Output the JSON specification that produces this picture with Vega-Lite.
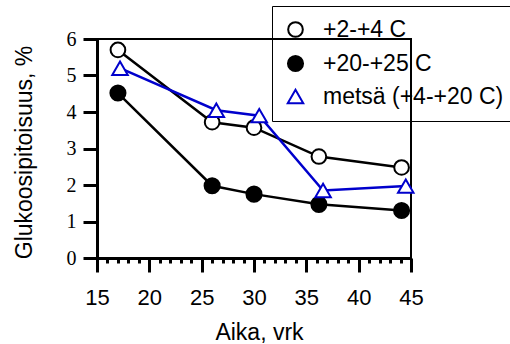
{
  "$schema": "https://vega.github.io/schema/vega-lite/v6.json",
  "width": 314,
  "height": 219,
  "autosize": "none",
  "padding": {"left": 97, "top": 39, "right": 99, "bottom": 86},
  "background": "white",
  "config": {
    "view": {"stroke": "black", "strokeWidth": 2},
    "axis": {
      "domainColor": "black", "tickColor": "black", "labelColor": "black", "titleColor": "black",
      "grid": false, "domainWidth": 3, "tickWidth": 3, "labelFlush": false, "labelOverlap": false,
      "titleFont": "Liberation Sans", "titleFontSize": 23, "titleFontWeight": "normal"
    },
    "legend": {
      "orient": "none", "legendX": 175, "legendY": -33,
      "strokeColor": "black", "padding": 12, "rowPadding": 9,
      "labelFont": "Liberation Sans", "labelFontSize": 23, "labelColor": "black", "labelLimit": 400,
      "labelOffset": 16, "symbolSize": 250, "symbolStrokeWidth": 2, "symbolOpacity": 1
    }
  },
  "data": {
    "values": [
      {"series": "+2-+4 C", "day": 17, "value": 5.7},
      {"series": "+2-+4 C", "day": 26, "value": 3.72},
      {"series": "+2-+4 C", "day": 30, "value": 3.57},
      {"series": "+2-+4 C", "day": 36.2, "value": 2.78},
      {"series": "+2-+4 C", "day": 44.1, "value": 2.48},
      {"series": "+20-+25 C", "day": 17, "value": 4.52},
      {"series": "+20-+25 C", "day": 26, "value": 1.98},
      {"series": "+20-+25 C", "day": 30, "value": 1.75},
      {"series": "+20-+25 C", "day": 36.2, "value": 1.47},
      {"series": "+20-+25 C", "day": 44.1, "value": 1.3},
      {"series": "metsä (+4-+20 C)", "day": 17.2, "value": 5.2},
      {"series": "metsä (+4-+20 C)", "day": 26.4, "value": 4.05},
      {"series": "metsä (+4-+20 C)", "day": 30.5, "value": 3.9},
      {"series": "metsä (+4-+20 C)", "day": 36.6, "value": 1.85},
      {"series": "metsä (+4-+20 C)", "day": 44.5, "value": 1.97}
    ]
  },
  "encoding": {
    "x": {
      "field": "day", "type": "quantitative",
      "scale": {"domain": [15, 45], "nice": false, "zero": false},
      "axis": {
        "values": [15, 16, 17, 18, 19, 20, 21, 22, 23, 24, 25, 26, 27, 28, 29, 30, 31, 32, 33, 34, 35, 36, 37, 38, 39, 40, 41, 42, 43, 44, 45],
        "labelExpr": "datum.value % 5 === 0 ? datum.label : ''",
        "tickSize": {"condition": {"test": "datum.value % 5 === 0", "value": 14}, "value": 5},
        "labelFont": "Liberation Sans", "labelFontSize": 22, "labelPadding": 15,
        "title": "Aika, vrk", "titleX": 162, "titleY": 81, "titleBaseline": "alphabetic"
      }
    },
    "y": {
      "field": "value", "type": "quantitative",
      "scale": {"domain": [0, 6], "nice": false},
      "axis": {
        "values": [0, 1, 2, 3, 4, 5, 6], "format": "d",
        "tickSize": 14, "labelFont": "Liberation Serif, Times New Roman, serif", "labelFontSize": 20, "labelPadding": 7,
        "title": "Glukoosipitoisuus, %", "titleX": -66, "titleY": 113, "titleBaseline": "alphabetic"
      }
    },
    "stroke": {
      "field": "series", "type": "nominal",
      "scale": {"domain": ["+2-+4 C", "+20-+25 C", "metsä (+4-+20 C)"], "range": ["black", "black", "#0000cc"]},
      "legend": {"title": null}
    }
  },
  "layer": [
    {
      "mark": {"type": "line", "clip": false, "strokeWidth": 2.5}
    },
    {
      "mark": {"type": "point", "filled": true, "strokeWidth": 2, "opacity": 1},
      "encoding": {
        "shape": {
          "field": "series", "type": "nominal",
          "scale": {"domain": ["+2-+4 C", "+20-+25 C", "metsä (+4-+20 C)"], "range": ["circle", "circle", "triangle-up"]},
          "legend": {"title": null, "encode": {"legend": {"update": {"strokeWidth": {"value": 2}}}}}
        },
        "fill": {
          "field": "series", "type": "nominal",
          "scale": {"domain": ["+2-+4 C", "+20-+25 C", "metsä (+4-+20 C)"], "range": ["white", "black", "white"]},
          "legend": {"title": null}
        },
        "size": {
          "field": "series", "type": "nominal",
          "scale": {"domain": ["+2-+4 C", "+20-+25 C", "metsä (+4-+20 C)"], "range": [215, 240, 310]},
          "legend": {"title": null}
        }
      }
    }
  ]
}
